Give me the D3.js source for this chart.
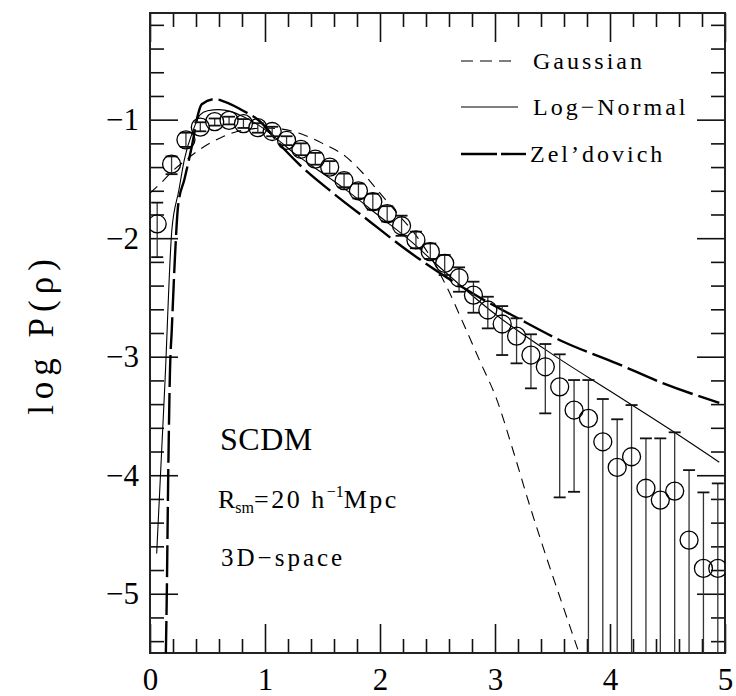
<!DOCTYPE html>
<html>
<head>
<meta charset="utf-8">
<script src="https://cdn.jsdelivr.net/npm/d3@7"></script>
<style>
  body { margin: 0; background: #fff; }
  text { font-family: "Liberation Serif", "DejaVu Serif", serif; fill: #000; }
</style>
</head>
<body>
<div class="pdf-plot"></div>
<script>
// density bins (rho) and measured log P(rho)
var rho = [0.0625, 0.1875, 0.3125, 0.4375, 0.5625, 0.6875, 0.8125, 0.9375, 1.0625, 1.1875,
           1.3125, 1.4375, 1.5625, 1.6875, 1.8125, 1.9375, 2.0625, 2.1875, 2.3125, 2.4375,
           2.5625, 2.6875, 2.8125, 2.9375, 3.0625, 3.1875, 3.3125, 3.4375, 3.5625, 3.6875,
           3.8125, 3.9375, 4.0625, 4.1875, 4.3125, 4.4375, 4.5625, 4.6875, 4.8125, 4.9375];
var logP = [-1.88, -1.375, -1.17, -1.063, -1.017, -1.006, -1.033, -1.067, -1.10, -1.175,
            -1.25, -1.333, -1.40, -1.515, -1.60, -1.692, -1.793, -1.895, -2.015, -2.114,
            -2.212, -2.334, -2.48, -2.606, -2.724, -2.826, -2.986, -3.085, -3.254, -3.45,
            -3.52, -3.718, -3.934, -3.844, -4.11, -4.21, -4.134, -4.547, -4.786, -4.786];
var errHi = [-1.70, -1.31, -1.11, -1.022, -0.99, -0.975, -0.995, -1.03, -1.06, -1.14,
             -1.20, -1.28, -1.35, -1.455, -1.54, -1.625, -1.73, -1.81, -1.945, -2.045,
             -2.142, -2.246, -2.367, -2.494, -2.573, -2.676, -2.811, -2.893, -2.98, -3.197,
             -3.197, -3.357, -3.528, -3.408, -3.689, -3.689, -3.638, -3.957, -4.145, -4.069];
// null = lower end of the bar runs off the bottom of the plot
var errLo = [-2.16, -1.46, -1.23, -1.098, -1.05, -1.04, -1.07, -1.11, -1.14, -1.215,
             -1.30, -1.38, -1.455, -1.57, -1.665, -1.76, -1.86, -1.98, -2.085, -2.175,
             -2.311, -2.452, -2.629, -2.761, -2.986, -3.056, -3.267, -3.478, -4.187, -4.14,
             null, null, null, null, null, null, null, null, null, null];

// model curves [rho, log P]
var gaussian = [[0.0, -1.62], [0.1, -1.53], [0.2, -1.43], [0.3, -1.35], [0.42, -1.26], [0.62, -1.15],
                [0.8, -1.09], [1.0, -1.07], [1.15, -1.08], [1.3, -1.115], [1.5, -1.2], [1.7, -1.31],
                [1.85, -1.45], [2.0, -1.62], [2.15, -1.79], [2.3, -1.96], [2.44, -2.16], [2.6, -2.45],
                [2.725, -2.72], [2.87, -3.04], [3.015, -3.36], [3.16, -3.8], [3.3, -4.25], [3.45, -4.7],
                [3.6, -5.13], [3.72, -5.47]];
var logNormal = [[0.058, -4.66], [0.13, -3.22], [0.19, -1.93], [0.25, -1.6], [0.3, -1.33], [0.375, -1.09],
                 [0.435, -0.96], [0.5, -0.925], [0.6, -0.915], [0.7, -0.93], [0.8, -0.97], [0.95, -1.05],
                 [1.1, -1.16], [1.25, -1.28], [1.42, -1.397], [1.71, -1.597], [2.0, -1.819], [2.29, -2.044],
                 [2.49, -2.22], [3.0, -2.64], [3.5, -2.98], [4.0, -3.29], [4.5, -3.6], [4.95, -3.89]];
var zeldovich = [[0.138, -5.5], [0.145, -5.08], [0.159, -3.96], [0.174, -3.11], [0.189, -2.78], [0.217, -2.16],
                 [0.245, -1.72], [0.3, -1.5], [0.363, -1.228], [0.42, -0.946], [0.45, -0.87], [0.565, -0.826],
                 [0.652, -0.849], [0.826, -0.933], [0.942, -1.003], [1.174, -1.256], [1.304, -1.383],
                 [1.594, -1.621], [1.913, -1.861], [2.232, -2.1], [2.855, -2.494], [3.2, -2.676],
                 [3.594, -2.874], [4.058, -3.056], [4.464, -3.225], [4.95, -3.389]];

var xMajor = [0, 1, 2, 3, 4, 5];
var yMajor = [-1, -2, -3, -4, -5];
var legendNames = ["Gaussian", "Log\u2212Normal", "Zel\u2019dovich"];

var width = 736;
var height = 696;
var margin = { left: 150, right: 725, top: 13, bottom: 653 };

var x = d3.scaleLinear().domain([0, 5]).range([margin.left, margin.right]);
var y = d3.scaleLinear().domain([-5.5, -0.1]).range([margin.bottom, margin.top]);

var xMinor = d3.range(0.2, 5, 0.2).filter(function (v) { return Math.abs(v - Math.round(v)) > 1e-6; });
var yMinor = d3.range(-5.4, -0.1, 0.2).filter(function (v) { return Math.abs(v - Math.round(v)) > 1e-6; });

var svg = d3.select(".pdf-plot")
    .append("svg")
    .attr("width", width)
    .attr("height", height);

svg.append("defs").append("clipPath")
    .attr("id", "plot-clip")
    .append("rect")
    .attr("x", margin.left).attr("y", margin.top)
    .attr("width", margin.right - margin.left).attr("height", margin.bottom - margin.top);

function minusFmt(d) { return d < 0 ? "\u2212" + Math.abs(d) : d; }

// major + minor ticks on all four sides, pointing inward
var sides = [
    { make: d3.axisBottom, scale: x, pos: "translate(0," + margin.bottom + ")", major: xMajor, minor: xMinor, len: 29, labels: true, pad: 15 },
    { make: d3.axisTop, scale: x, pos: "translate(0," + margin.top + ")", major: xMajor, minor: xMinor, len: 29, labels: false },
    { make: d3.axisLeft, scale: y, pos: "translate(" + margin.left + ",0)", major: yMajor, minor: yMinor, len: 28, labels: true, pad: 11 },
    { make: d3.axisRight, scale: y, pos: "translate(" + margin.right + ",0)", major: yMajor, minor: yMinor, len: 28, labels: false }
];
sides.forEach(function (s) {
    var major = s.make(s.scale).tickValues(s.major).tickSize(-s.len);
    if (s.labels) {
        major.tickPadding(s.pad).tickFormat(minusFmt);
    } else {
        major.tickFormat("");
    }
    var g = svg.append("g").attr("transform", s.pos).call(major);
    g.select(".domain").remove();
    g.selectAll(".tick line").attr("stroke", "#111").attr("stroke-width", 1.6);
    g.selectAll("text").attr("font-size", null).attr("font-family", null)
        .style("font-size", "31px").style("fill", "#000");

    var minorAxis = s.make(s.scale).tickValues(s.minor).tickSize(-14).tickFormat("");
    var g2 = svg.append("g").attr("transform", s.pos).call(minorAxis);
    g2.select(".domain").remove();
    g2.selectAll(".tick line").attr("stroke", "#111").attr("stroke-width", 1.6);
});

svg.append("rect")
    .attr("x", margin.left).attr("y", margin.top)
    .attr("width", margin.right - margin.left).attr("height", margin.bottom - margin.top)
    .attr("fill", "none")
    .attr("stroke", "#222")
    .attr("stroke-width", 2);

// model curves
var line = d3.line()
    .x(function (d) { return x(d[0]); })
    .y(function (d) { return y(d[1]); })
    .curve(d3.curveMonotoneX);

var curves = svg.append("g").attr("clip-path", "url(#plot-clip)");

curves.append("path")
    .datum(gaussian)
    .attr("d", line)
    .attr("fill", "none")
    .attr("stroke", "#000")
    .attr("stroke-width", 1.1)
    .attr("stroke-dasharray", "10,7");

curves.append("path")
    .datum(logNormal)
    .attr("d", line)
    .attr("fill", "none")
    .attr("stroke", "#000")
    .attr("stroke-width", 1.1);

curves.append("path")
    .datum(zeldovich)
    .attr("d", line)
    .attr("fill", "none")
    .attr("stroke", "#000")
    .attr("stroke-width", 2.4)
    .attr("stroke-dasharray", "32,6");

// data points with error bars
var pts = rho.map(function (r, i) {
    return { r: r, v: logP[i], hi: errHi[i], lo: errLo[i] };
});

var bars = svg.append("g").attr("clip-path", "url(#plot-clip)");

bars.selectAll(".err")
    .data(pts)
    .enter()
    .append("line")
    .attr("class", "err")
    .attr("x1", function (d) { return x(d.r); })
    .attr("x2", function (d) { return x(d.r); })
    .attr("y1", function (d) { return y(d.hi); })
    .attr("y2", function (d) { return d.lo === null ? y(-5.5) : y(d.lo); })
    .attr("stroke", "#333")
    .attr("stroke-width", 1.3);

pts.forEach(function (d) {
    [d.hi, d.lo].forEach(function (c) {
        if (c === null) return;
        bars.append("line")
            .attr("x1", x(d.r) - 6).attr("x2", x(d.r) + 6)
            .attr("y1", y(c)).attr("y2", y(c))
            .attr("stroke", "#111")
            .attr("stroke-width", 1.8);
    });
});

bars.selectAll(".pt")
    .data(pts)
    .enter()
    .append("circle")
    .attr("class", "pt")
    .attr("cx", function (d) { return x(d.r); })
    .attr("cy", function (d) { return y(d.v); })
    .attr("r", 9)
    .attr("fill", "none")
    .attr("stroke", "#000")
    .attr("stroke-width", 1.3);

// legend
var legend = svg.append("g");
var keyY = [61, 107, 154];
var keyStyles = [
    { w: 1.1, dash: "12,7", x2: 512 },
    { w: 1.1, dash: null, x2: 518 },
    { w: 2.4, dash: "36,4", x2: 526 }
];
legendNames.forEach(function (name, i) {
    legend.append("line")
        .attr("x1", 461).attr("x2", keyStyles[i].x2)
        .attr("y1", keyY[i]).attr("y2", keyY[i])
        .attr("stroke", "#000")
        .attr("stroke-width", keyStyles[i].w)
        .attr("stroke-dasharray", keyStyles[i].dash);
    legend.append("text")
        .attr("x", i === 2 ? 530 : 533)
        .attr("y", keyY[i] + 8)
        .style("font-size", "24px")
        .style("letter-spacing", "3px")
        .text(name);
});

// annotations
svg.append("text")
    .attr("x", 220).attr("y", 450)
    .style("font-size", "32px")
    .style("letter-spacing", "0.5px")
    .text("SCDM");

var rsm = svg.append("text")
    .attr("x", 218).attr("y", 508)
    .style("font-size", "26px");
rsm.append("tspan").text("R");
rsm.append("tspan").attr("dy", 5).style("font-size", "16px").text("sm");
rsm.append("tspan").attr("dy", -5).style("letter-spacing", "2.5px").text("=20  h");
rsm.append("tspan").attr("dy", -11).style("font-size", "16px").text("\u22121");
rsm.append("tspan").attr("dy", 11).style("letter-spacing", "2.5px").text("Mpc");

svg.append("text")
    .attr("x", 221).attr("y", 566)
    .style("font-size", "25px")
    .style("letter-spacing", "3px")
    .text("3D\u2212space");

// y axis title
svg.append("text")
    .attr("transform", "translate(53,334) rotate(-90)")
    .attr("text-anchor", "middle")
    .style("font-size", "35px")
    .style("letter-spacing", "6px")
    .text("log  P(\u03C1)");
</script>
</body>
</html>
